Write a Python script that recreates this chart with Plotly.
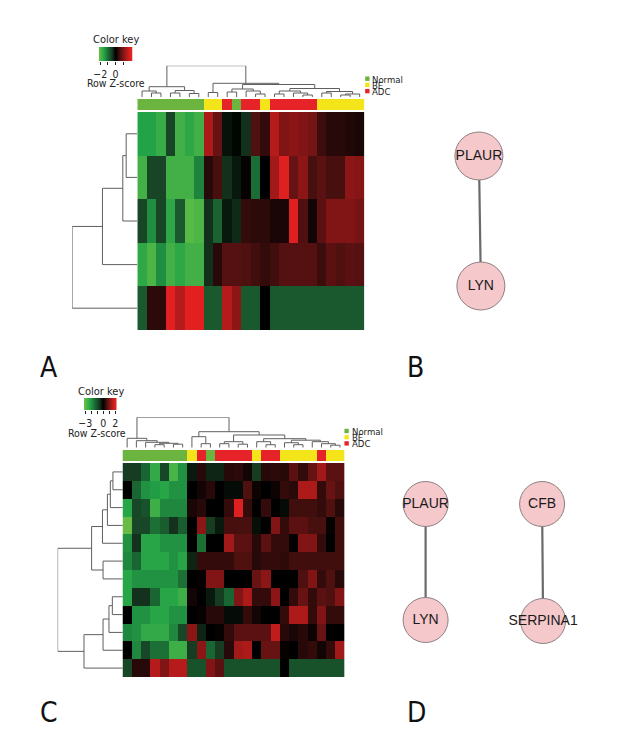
import numpy as np
import plotly.graph_objects as go

W, H = 630, 750

# ---------------- data ----------------
group_names = ["Normal", "BE", "ADC"]
group_colors = ["#6bb43f", "#f4e51b", "#e52329"]

groups_A = ["Normal", "Normal", "Normal", "Normal", "Normal", "Normal", "Normal",
            "BE", "BE", "ADC", "Normal", "ADC", "ADC", "BE",
            "ADC", "ADC", "ADC", "ADC", "ADC", "BE", "BE", "BE", "BE", "BE"]

zA = [
    [-1.5, -1.5, -1.7, -0.6, -1.8, -1.6, -1.8, 1.4, 0.8, -0.15, -0.05, -0.4, 0.6, 0.4, 1.5, 1.0, 1.1, 1.0, 0.9, 0.45, 0.3, 0.3, 0.25, 0.2],
    [-1.8, -0.6, -0.6, -1.8, -1.8, -1.8, -1.2, 0.3, 0.55, -0.4, -0.2, 0.05, -1.0, 0.0, 1.3, 1.9, 0.8, 1.1, 0.55, 0.7, 0.55, 0.55, 1.1, 1.05],
    [-0.6, -1.3, -0.6, -1.6, -0.8, -2.0, -1.9, -0.4, -0.9, -0.2, -0.35, 0.4, 0.35, 0.35, 0.2, 0.2, 1.9, 0.6, 0.15, 0.7, 1.0, 1.0, 1.0, 0.9],
    [-1.6, -1.9, -1.3, -1.8, -1.6, -1.8, -1.8, -0.4, 0.3, 0.65, 0.65, 0.6, 0.5, 0.4, 0.5, 0.65, 0.65, 0.65, 0.65, 0.45, 0.7, 0.6, 0.7, 0.65],
    [-0.8, 0.35, 0.35, 2.0, 1.5, 2.0, 2.0, -0.8, -0.8, 1.5, 1.1, -0.8, -0.8, 0.0, -0.8, -0.8, -0.8, -0.8, -0.8, -0.8, -0.8, -0.8, -0.8, -0.8],
]
row_tree_A = [66, [35.3, [14.7, [11.3, 0, 1], 2], 3], 4]
col_tree_A = [31.3,
              [10.3, [6, 0, [4, 1, 2]], [6.5, [4, 3, 4], [3.5, 5, 6]]],
              [13.7, [4.5, 7, 8],
               [12.5,
                [8, [5, 9, 10], [6, 11, [3, 12, 13]]],
                [8.5, [6, [3, 14, 15], [4, 16, [2, 17, 18]]],
                 [5.5, [4, 19, 20], [3, [2, 21, 22], 23]]]]]]

groups_C = ["Normal", "Normal", "Normal", "Normal", "Normal", "Normal", "Normal",
            "BE", "ADC", "Normal", "ADC", "ADC", "ADC", "ADC", "BE", "ADC", "ADC",
            "BE", "BE", "BE", "BE", "ADC", "BE", "BE"]

zC = [
    [-0.75, -0.75, -1.35, -2.4, -0.9, -2.7, -1.95, -0.3, 0.3, -0.45, -0.45, 0.3, 0.35, 0.15, -0.75, 0.3, 0.35, 0.3, 0.7, 0.4, 0.8, 1.3, 0.7, 0.7],
    [0.0, -1.35, -1.95, -2.1, -2.25, -1.95, -1.95, 0.0, 0.15, 0.3, 0.0, -0.15, -0.15, 0.6, 0.1, 0.0, 0.1, 0.4, 0.3, 1.4, 1.4, 0.4, 0.8, 0.6],
    [-2.25, -0.9, -1.05, -2.55, -1.8, -1.8, -1.8, 0.2, 0.3, 0.0, 0.0, 0.4, 1.9, 0.4, 0.0, 0.4, 0.0, -0.15, 0.5, 0.5, 0.5, 0.4, 0.6, 0.3],
    [-3.1, -0.9, -0.9, -1.5, -1.2, -0.6, -1.2, 0.0, 1.1, -0.75, -0.3, 0.55, 0.55, 0.55, -0.2, 0.0, 1.0, 0.4, 0.7, 0.7, 0.55, 0.55, 0.05, 0.5],
    [-1.95, -0.6, -2.25, -2.25, -1.95, -1.95, -1.95, 0.0, -1.5, 0.0, 0.0, 1.3, 0.7, 0.7, 0.3, 0.7, 0.4, 0.4, 0.05, 1.0, 1.0, 0.4, 0.0, 0.5],
    [-1.8, -1.35, -2.25, -2.25, -2.25, -1.95, -2.25, -0.45, 0.4, 0.4, 0.4, 0.4, 0.6, 0.6, 0.3, 0.4, 0.4, 0.35, 0.5, 0.5, 0.5, 0.5, 0.5, 0.5],
    [-2.25, -1.95, -1.95, -1.95, -1.95, -1.95, -1.5, 0.0, 0.05, 1.0, 1.0, 0.0, 0.0, 0.0, 0.8, 1.1, 0.0, 0.0, 0.0, 0.6, 1.0, 0.4, 0.6, 0.3],
    [-2.25, -0.6, -0.6, -1.35, -2.25, -2.25, -2.55, 0.15, 0.0, -0.3, -0.75, -1.35, 1.0, 1.4, 0.4, 0.4, 1.1, 0.0, 0.4, 0.8, 0.4, 0.7, 0.6, 1.0],
    [0.0, -1.95, -1.95, -2.25, -2.25, -1.95, -1.95, 0.0, 0.05, 0.3, 0.3, -0.15, -0.15, 0.4, 0.15, 0.0, 0.0, 0.4, 1.4, 1.4, 0.4, 1.0, 0.4, 0.4],
    [-1.8, -1.95, -2.4, -2.4, -2.4, -1.8, -0.9, 1.1, -0.45, 0.0, 0.05, 0.4, 0.7, 0.7, 0.7, 0.7, 1.6, 0.3, 0.2, 0.3, 0.1, 0.8, 0.0, 0.0],
    [0.0, -1.8, -0.9, -1.5, -1.5, -2.55, -2.55, -0.75, 1.1, -1.35, -0.75, 0.3, 1.3, 1.4, 0.0, 0.8, 0.8, 0.05, 0.0, 0.3, 0.4, 0.15, 0.4, 1.3],
    [-0.9, 0.3, 0.3, 1.5, 1.0, 1.5, 1.5, -1.05, -1.05, 1.0, 0.7, -1.05, -1.05, -1.05, -1.05, -1.05, -1.05, 0.0, -1.05, -1.05, -1.05, -1.05, -1.05, -1.05],
]
row_tree_C = [66,
              [31.6, [20.6, [15.6, [12.6, [10, 0, 1], 2], 3], 4], [20, 5, 6]],
              [39.3, [20, [14, [10.6, 7, 8], 9], 10], 11]]
col_tree_C = [30.4,
              [9.4, 0, [7, 1, [5.4, 2, [4.4, [3, 3, 4], [3.5, 5, 6]]]]],
              [16, [11, 7, [4, 8, 9]],
               [12.7,
                [6, [4, 10, 11], [3.5, 12, 13]],
                [9, [6, 14, [3, 15, 16]],
                 [7.5, [5, 17, [3, 18, 19]], [6, 20, [4, 21, [2.5, 22, 23]]]]]]]]

key_A = {"zmin": -2.2, "zmax": 2.2, "ticks": [-2, -1, 0, 1], "labels": ["\u22122", "", "0", ""]}
key_C = {"zmin": -3.2, "zmax": 2.2, "ticks": [-3, -2, -1, 0, 1, 2], "labels": ["\u22123", "", "", "0", "", "2"]}

net_B_nodes = ["PLAUR", "LYN"]
net_B_edges = [("PLAUR", "LYN")]
net_D_nodes = ["PLAUR", "LYN", "CFB", "SERPINA1"]
net_D_edges = [("PLAUR", "LYN"), ("CFB", "SERPINA1")]

# ---------------- layout (pixel boxes) ----------------
FN = "Liberation Sans Narrow, DejaVu Sans Condensed, Arial Narrow, sans-serif"
FA = "Liberation Sans, Arial, sans-serif"

panels = {
    "A": dict(heat=(133, 363, 112, 330), bar=(133, 363, 99, 110), cden=(133, 363, 65.7, 97),
              rden=(67, 133, 112, 330), key=(94, 128, 47, 61), keytitle=(111, 39), keylab=(111, 83.5),
              legend=(366, [78.7, 84.9, 91.1])),
    "C": dict(heat=(118, 343, 463, 677), bar=(118, 343, 450, 461), cden=(118, 343, 417.3, 447.7),
              rden=(52.3, 118.3, 463, 677), key=(79, 112, 398, 410), keytitle=(96, 391), keylab=(92, 432.5),
              legend=(345, [431, 437.2, 443.4])),
}
node_pos = {
    "B": {"PLAUR": (479, 156), "LYN": (481, 286)},
    "D": {"PLAUR": (425, 504), "LYN": (425, 620), "CFB": (543, 504), "SERPINA1": (544, 621)},
}
node_size = {"B": 48, "D": 45}
letters = [("A", 44, 368), ("B", 415, 368), ("C", 44, 712), ("D", 416, 712)]


def dx(x0, x1):
    return [x0 / W, x1 / W]


def dy(y0, y1):
    return [1 - y1 / H, 1 - y0 / H]


def make_scale(zmin, zmax):
    neg = [(1.0, "#70be44"), (0.9, "#55b846"), (0.68, "#23a347"), (0.45, "#1b6c35"), (0.22, "#163a21"), (0.0, "#000000")]
    pos = [(0.12, "#220808"), (0.27, "#4e1010"), (0.45, "#801515"), (0.62, "#a81a1a"), (0.88, "#e22020"), (1.0, "#e82222")]
    cs = []
    for f, c in neg:
        v = f * zmin
        cs.append([(v - zmin) / (zmax - zmin), c])
    for f, c in pos:
        v = f * zmax
        cs.append([(v - zmin) / (zmax - zmin), c])
    return cs


def dendro(tree):
    xs, hs = [], []

    def rec(node):
        if isinstance(node, int):
            return float(node), 0.0
        h, l, r = node
        xl, hl = rec(l)
        xr, hr = rec(r)
        xs.extend([xl, xl, xr, xr, None])
        hs.extend([hl, h, h, hr, None])
        return (xl + xr) / 2, h

    rec(tree)
    return xs, hs


fig = go.Figure()
layout = dict(width=W, height=H, margin=dict(l=0, r=0, t=0, b=0),
              paper_bgcolor="white", plot_bgcolor="rgba(0,0,0,0)", showlegend=False)
shapes, annotations = [], []
ax_i = [0]


def new_axes(xdom, ydom, xrange, yrange, xextra=None, yextra=None):
    ax_i[0] += 1
    i = ax_i[0]
    sfx = "" if i == 1 else str(i)
    xa = dict(domain=xdom, range=xrange, anchor="y" + sfx, showgrid=False, zeroline=False,
              showticklabels=False, ticks="", showline=False, fixedrange=True)
    ya = dict(domain=ydom, range=yrange, anchor="x" + sfx, showgrid=False, zeroline=False,
              showticklabels=False, ticks="", showline=False, fixedrange=True)
    if xextra:
        xa.update(xextra)
    if yextra:
        ya.update(yextra)
    layout["xaxis" + sfx] = xa
    layout["yaxis" + sfx] = ya
    return "x" + sfx, "y" + sfx


def add_heatmap_panel(P, z, groups, row_tree, col_tree, key):
    nr, nc = len(z), len(z[0])
    scale = make_scale(key["zmin"], key["zmax"])
    # main heatmap
    x0, x1, y0, y1 = P["heat"]
    xa, ya = new_axes(dx(x0, x1), dy(y0, y1), [-0.5, nc - 0.5], [nr - 0.5, -0.5])
    fig.add_trace(go.Heatmap(z=z, colorscale=scale, zmin=key["zmin"], zmax=key["zmax"],
                             showscale=False, xaxis=xa, yaxis=ya, hoverinfo="skip"))
    # group bar
    codes = [group_names.index(g) for g in groups]
    x0, x1, y0, y1 = P["bar"]
    xa, ya = new_axes(dx(x0, x1), dy(y0, y1), [-0.5, nc - 0.5], [-0.5, 0.5])
    gcs = [[0, group_colors[0]], [1 / 3, group_colors[0]], [1 / 3, group_colors[1]],
           [2 / 3, group_colors[1]], [2 / 3, group_colors[2]], [1, group_colors[2]]]
    fig.add_trace(go.Heatmap(z=[codes], colorscale=gcs, zmin=0, zmax=2, showscale=False,
                             xaxis=xa, yaxis=ya, hoverinfo="skip"))
    # column dendrogram
    xs, hs = dendro(col_tree)
    x0, x1, y0, y1 = P["cden"]
    xa, ya = new_axes(dx(x0, x1), dy(y0, y1), [-0.5, nc - 0.5], [0, col_tree[0]])
    fig.add_trace(go.Scatter(x=xs, y=hs, mode="lines", line=dict(color="#5f5f5f", width=1),
                             xaxis=xa, yaxis=ya, hoverinfo="skip", cliponaxis=False))
    # row dendrogram
    ys, hs = dendro(row_tree)
    x0, x1, y0, y1 = P["rden"]
    xa, ya = new_axes(dx(x0, x1), dy(y0, y1), [row_tree[0], 0], [nr - 0.5, -0.5])
    fig.add_trace(go.Scatter(x=hs, y=ys, mode="lines", line=dict(color="#5f5f5f", width=1),
                             xaxis=xa, yaxis=ya, hoverinfo="skip", cliponaxis=False))
    # colour key
    x0, x1, y0, y1 = P["key"]
    kv = np.linspace(key["zmin"], key["zmax"], 120)
    xa, ya = new_axes(dx(x0, x1), dy(y0, y1), [key["zmin"], key["zmax"]], [-0.5, 0.5],
                      xextra=dict(showticklabels=True, ticks="outside", ticklen=3, tickwidth=1,
                                  tickcolor="#222", tickvals=key["ticks"], ticktext=key["labels"],
                                  tickfont=dict(family=FN, size=10.5, color="#222"), side="bottom"))
    fig.add_trace(go.Heatmap(x=kv, y=[0], z=[kv], colorscale=scale, zmin=key["zmin"], zmax=key["zmax"],
                             showscale=False, xaxis=xa, yaxis=ya, hoverinfo="skip"))
    tx, ty = P["keytitle"]
    annotations.append(dict(text="Color key", x=tx / W, y=1 - ty / H, xref="paper", yref="paper",
                            showarrow=False, font=dict(family=FN, size=11, color="#222"),
                            xanchor="center", yanchor="middle"))
    tx, ty = P["keylab"]
    annotations.append(dict(text="Row Z-score", x=tx / W, y=1 - ty / H, xref="paper", yref="paper",
                            showarrow=False, font=dict(family=FN, size=10.5, color="#222"),
                            xanchor="center", yanchor="middle"))
    # group legend
    lx, lys = P["legend"]
    for name, col, ly in zip(group_names, group_colors, lys):
        shapes.append(dict(type="rect", xref="paper", yref="paper",
                           x0=(lx - 2.2) / W, x1=(lx + 2.2) / W, y0=1 - (ly + 2.2) / H, y1=1 - (ly - 2.2) / H,
                           fillcolor=col, line=dict(width=0)))
        annotations.append(dict(text=name, x=(lx + 3) / W, y=1 - (ly + 0.5) / H, xref="paper", yref="paper",
                                showarrow=False, font=dict(family=FN, size=9.5, color="#222"),
                                xanchor="left", yanchor="middle"))


add_heatmap_panel(panels["A"], zA, groups_A, row_tree_A, col_tree_A, key_A)
add_heatmap_panel(panels["C"], zC, groups_C, row_tree_C, col_tree_C, key_C)

# ---------------- networks ----------------
xa, ya = new_axes([0, 1], [0, 1], [0, W], [H, 0])
for key_p, nodes, edges in [("B", net_B_nodes, net_B_edges), ("D", net_D_nodes, net_D_edges)]:
    pos = node_pos[key_p]
    ex, ey = [], []
    for a, b in edges:
        ex += [pos[a][0], pos[b][0], None]
        ey += [pos[a][1], pos[b][1], None]
    fig.add_trace(go.Scatter(x=ex, y=ey, mode="lines", line=dict(color="#6a6a6a", width=2.2),
                             xaxis=xa, yaxis=ya, hoverinfo="skip"))
    fig.add_trace(go.Scatter(x=[pos[n][0] for n in nodes], y=[pos[n][1] for n in nodes],
                             mode="markers+text", text=nodes, textposition="middle center",
                             textfont=dict(family=FA, size=14, color="#1a1a1a"),
                             marker=dict(size=node_size[key_p], color="#f5c8cc",
                                         line=dict(color="#8e7f80", width=1)),
                             xaxis=xa, yaxis=ya, hoverinfo="skip"))

for t, x, y in letters:
    annotations.append(dict(text=t, x=x / W, y=1 - y / H, xref="paper", yref="paper", showarrow=False,
                            font=dict(family=FN, size=28, color="#111"), xanchor="center", yanchor="middle"))

layout["shapes"] = shapes
layout["annotations"] = annotations
fig.update_layout(**layout)
fig.write_html("out.html", config={"displayModeBar": False},
               post_script="document.body.style.margin='0';document.body.style.padding='0';")
